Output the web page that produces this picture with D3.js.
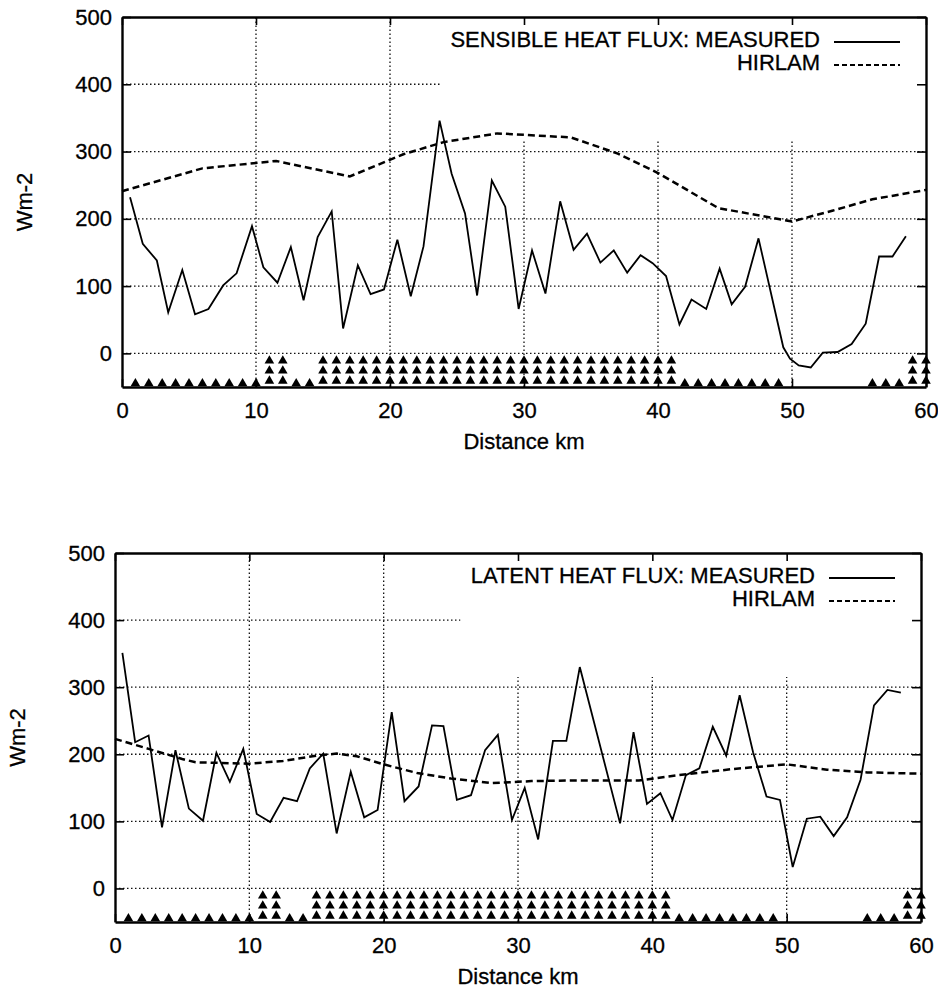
<!DOCTYPE html>
<html>
<head>
<meta charset="utf-8">
<script src="https://cdn.jsdelivr.net/npm/d3@7"></script>
<style>
body { margin: 0; background: #fff; }
svg { display: block; font-family: 'Liberation Sans', Arial, sans-serif; }
</style>
</head>
<body>
<svg id="chart" width="938" height="989"></svg>
<script>
// axis ticks
var kmTicks = [0, 10, 20, 30, 40, 50, 60];
var fluxTicks = [0, 100, 200, 300, 400, 500];

// sensible heat flux, measured along the track
var sensibleKm = [0.6, 1.55, 2.6, 3.45, 4.5, 5.45, 6.45, 7.55, 8.55, 9.7, 10.55, 11.6, 12.6, 13.55,
    14.6, 15.65, 16.5, 17.6, 18.55, 19.55, 20.55, 21.55, 22.5, 23.7, 24.6, 25.6, 26.5, 27.6, 28.6,
    29.6, 30.6, 31.6, 32.7, 33.7, 34.7, 35.7, 36.7, 37.7, 38.7, 39.6, 40.6, 41.6, 42.5, 43.6, 44.6,
    45.5, 46.5, 47.5, 49.35, 49.85, 50.5, 51.4, 52.3, 53.4, 54.45, 55.5, 56.5, 57.5, 58.5];
var sensibleMeasured = [232, 163, 138, 61, 124, 58, 66, 101, 119, 189, 128, 105, 158, 79,
    173, 211, 37, 131, 88, 95, 169, 85, 159, 346, 267, 208, 86, 257, 218,
    66, 153, 89, 226, 154, 178, 135, 153, 120, 146, 134, 115, 43, 80, 66, 126,
    73, 99, 171, 9, -8, -18, -21, 1, 2, 14, 44, 144, 144, 174];
// sensible heat flux, HIRLAM model
var sensibleHirlamKm = [0, 3, 6, 11.5, 17, 21, 24, 28, 33.5, 37, 40, 44.5, 50, 53, 56, 60];
var sensibleHirlam = [241, 258, 275, 286, 263, 296, 314, 327, 321, 297, 268, 216, 196, 212, 229, 243];

// latent heat flux, measured along the track
var latentKm = [0.55, 1.5, 2.5, 3.5, 4.5, 5.5, 6.55, 7.55, 8.55, 9.55, 10.55, 11.55, 12.55, 13.55,
    14.5, 15.5, 16.5, 17.55, 18.55, 19.55, 20.6, 21.55, 22.6, 23.6, 24.45, 25.45, 26.5, 27.55, 28.5,
    29.55, 30.5, 31.5, 32.6, 33.6, 34.6, 37.6, 38.6, 39.6, 40.6, 41.5, 42.5, 43.5, 44.5, 45.5, 46.5,
    47.5, 48.5, 49.5, 50.45, 51.5, 52.5, 53.5, 54.5, 55.5, 56.5, 57.5, 58.5];
var latentMeasured = [351, 218, 228, 91, 206, 119, 101, 202, 159, 208, 111, 99, 135, 130,
    179, 201, 82, 174, 106, 117, 263, 130, 152, 243, 242, 132, 139, 206, 229,
    102, 150, 73, 220, 220, 330, 97, 233, 126, 142, 102, 169, 179, 241, 198, 288,
    203, 137, 132, 32, 104, 107, 78, 106, 162, 273, 296, 292];
// latent heat flux, HIRLAM model
var latentHirlamKm = [0, 2.5, 5, 6, 10, 12.5, 15, 16.5, 18, 20, 22.5, 25, 28, 31, 34, 39, 42, 46, 50, 53, 56, 60];
var latentHirlam = [223, 208, 193, 188, 186, 190, 198, 201, 197, 185, 172, 164, 157, 160, 161, 161, 169, 178, 185, 177, 173, 171];

// surface markers: number of triangles at each km (1..60)
var markerKm = d3.range(1, 61);
var markerCount = [1, 1, 1, 1, 1, 1, 1, 1, 1, 1,
    3, 3, 1, 1, 3, 3, 3, 3, 3, 3,
    3, 3, 3, 3, 3, 3, 3, 3, 3, 3,
    3, 3, 3, 3, 3, 3, 3, 3, 3, 3,
    3, 1, 1, 1, 1, 1, 1, 1, 1, 0,
    0, 0, 0, 0, 0, 1, 1, 1, 3, 3];
var stackBase = [-45, -30, -15];
var singleBase = -49;

var svg = d3.select('#chart');

drawPanel({
    left: 122, right: 926, top: 17, bottom: 387,
    title: 'SENSIBLE HEAT FLUX: MEASURED',
    measured: d3.zip(sensibleKm, sensibleMeasured),
    hirlam: d3.zip(sensibleHirlamKm, sensibleHirlam),
    grid400End: 23.7
});
drawPanel({
    left: 115, right: 921, top: 553, bottom: 922,
    title: 'LATENT HEAT FLUX: MEASURED',
    measured: d3.zip(latentKm, latentMeasured),
    hirlam: d3.zip(latentHirlamKm, latentHirlam),
    grid400End: 25.7
});

function drawPanel(cfg) {
    var x = d3.scaleLinear().domain([0, 60]).range([cfg.left, cfg.right]);
    var y = d3.scaleLinear().domain([-50, 500]).range([cfg.bottom, cfg.top]);
    var g = svg.append('g');

    // dotted grid (partly missing in the original plot)
    var grid = g.append('g')
        .attr('stroke', '#111')
        .attr('stroke-width', 1.3)
        .attr('stroke-dasharray', '1.5,2.5');
    [0, 100, 200, 300, 400].forEach(function (v) {
        grid.append('line')
            .attr('x1', x(0)).attr('x2', x(v === 400 ? cfg.grid400End : 60))
            .attr('y1', y(v)).attr('y2', y(v));
    });
    [10, 20, 30, 40, 50].forEach(function (k) {
        grid.append('line')
            .attr('x1', x(k)).attr('x2', x(k))
            .attr('y1', y(-50)).attr('y2', y(k <= 20 ? 500 : 315));
    });

    // axes with inward ticks
    var axes = [
        { a: d3.axisLeft(y).tickValues(fluxTicks).tickSize(-9).tickPadding(10), t: 'translate(' + cfg.left + ',0)' },
        { a: d3.axisRight(y).tickValues(fluxTicks).tickSize(-9).tickFormat(''), t: 'translate(' + cfg.right + ',0)' },
        { a: d3.axisBottom(x).tickValues(kmTicks).tickSize(-8).tickPadding(15), t: 'translate(0,' + cfg.bottom + ')' },
        { a: d3.axisTop(x).tickValues(kmTicks).tickSize(-8).tickFormat(''), t: 'translate(0,' + cfg.top + ')' }
    ];
    axes.forEach(function (d) {
        var ax = g.append('g').attr('transform', d.t).call(d.a.tickSizeOuter(0));
        ax.select('.domain').attr('stroke', '#000').attr('stroke-width', 2.4);
        ax.selectAll('.tick line').attr('stroke', '#000').attr('stroke-width', 1.6);
        ax.selectAll('.tick text').attr('font-size', 22).attr('fill', '#000')
            .attr('stroke', '#000').attr('stroke-width', 0.3)
            .attr('font-family', "'Liberation Sans', Arial, sans-serif");
    });

    // axis titles
    var titles = g.append('g').attr('font-size', 22).attr('stroke', '#000').attr('stroke-width', 0.3);
    titles.append('text')
        .attr('transform', 'translate(' + (cfg.left - 90) + ',' + ((cfg.top + cfg.bottom) / 2) + ') rotate(-90)')
        .attr('text-anchor', 'middle')
        .text('Wm-2');
    titles.append('text')
        .attr('x', (cfg.left + cfg.right) / 2)
        .attr('y', cfg.bottom + 62)
        .attr('text-anchor', 'middle')
        .text('Distance km');

    // surface triangles
    var tri = d3.symbol().type(d3.symbolTriangle).size(40);
    var off = Math.sqrt(40 / (Math.sqrt(3) * 3));
    var marks = [];
    markerKm.forEach(function (k, i) {
        if (markerCount[i] === 1) {
            marks.push([k, singleBase]);
        } else if (markerCount[i] === 3) {
            stackBase.forEach(function (b) { marks.push([k, b]); });
        }
    });
    g.append('g').selectAll('path')
        .data(marks)
        .enter()
        .append('path')
        .attr('d', tri)
        .attr('transform', function (d) {
            return 'translate(' + x(d[0]) + ',' + (y(d[1]) - off) + ')';
        })
        .attr('fill', '#000');

    // series
    var line = d3.line()
        .x(function (d) { return x(d[0]); })
        .y(function (d) { return y(d[1]); });
    g.append('path')
        .attr('d', line(cfg.hirlam))
        .attr('fill', 'none')
        .attr('stroke', '#000')
        .attr('stroke-width', 2.5)
        .attr('stroke-dasharray', '7,4');
    g.append('path')
        .attr('d', line(cfg.measured))
        .attr('fill', 'none')
        .attr('stroke', '#000')
        .attr('stroke-width', 1.8)
        .attr('stroke-linejoin', 'miter');

    // legend
    var lg = g.append('g').attr('font-size', 22).attr('text-anchor', 'end');
    var rows = [{ label: cfg.title, dash: null }, { label: 'HIRLAM', dash: '5,3' }];
    rows.forEach(function (r, i) {
        var base = cfg.top + 30 + i * 23;
        lg.append('text')
            .attr('x', cfg.right - 106)
            .attr('y', base)
            .attr('stroke', '#000')
            .attr('stroke-width', 0.3)
            .text(r.label);
        lg.append('line')
            .attr('x1', cfg.right - 92).attr('x2', cfg.right - 26)
            .attr('y1', base - 5).attr('y2', base - 5)
            .attr('stroke', '#000')
            .attr('stroke-width', 1.8)
            .attr('stroke-dasharray', r.dash);
    });
}
</script>
</body>
</html>
